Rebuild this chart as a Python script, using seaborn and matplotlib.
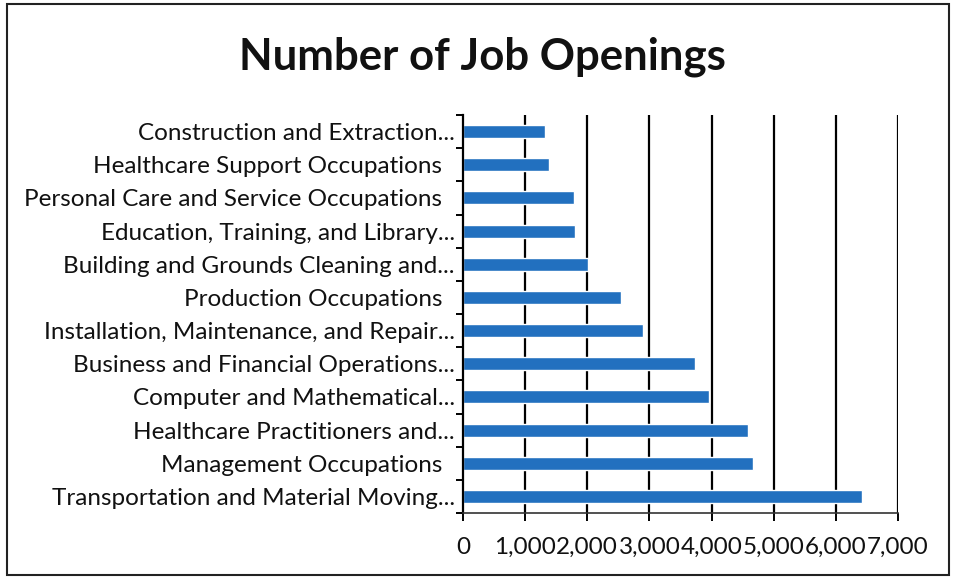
import numpy as np
import pandas as pd
import matplotlib
matplotlib.use('Agg')
import matplotlib.pyplot as plt
import seaborn as sns
from matplotlib.patches import Rectangle
from matplotlib.ticker import FuncFormatter, FixedLocator

# data, top to bottom as shown in the chart
categories = [
    "Construction and Extraction...",
    "Healthcare Support Occupations  ",
    "Personal Care and Service Occupations  ",
    "Education, Training, and Library...",
    "Building and Grounds Cleaning and...",
    "Production Occupations  ",
    "Installation, Maintenance, and Repair...",
    "Business and Financial Operations...",
    "Computer and Mathematical...",
    "Healthcare Practitioners and...",
    "Management Occupations  ",
    "Transportation and Material Moving...",
]
openings = [1320, 1380, 1780, 1795, 2010, 2537, 2898, 3726, 3963, 4581, 4666, 6419]
x_ticks = [0, 1000, 2000, 3000, 4000, 5000, 6000, 7000]

sns.set_style("white")
plt.rcParams['font.family'] = ['Lato', 'DejaVu Sans']

df = pd.DataFrame({'Occupation': categories, 'Openings': openings})

W, H = 955, 580
fig = plt.figure(figsize=(W / 100, H / 100), dpi=100)
fig.patch.set_facecolor('white')
ax = fig.add_axes([463 / W, 1 - 513 / H, (898 - 463) / W, (513 - 115) / H])

sns.barplot(data=df, x='Openings', y='Occupation', orient='h', color='#2270bf',
            saturation=1, width=0.39, ax=ax, errorbar=None)

ax.set_xlim(0, 7000)
ax.set_ylim(len(categories) - 0.5, -0.5)
ax.set_xlabel('')
ax.set_ylabel('')

# vertical gridlines
ax.xaxis.set_major_locator(FixedLocator(x_ticks))
ax.xaxis.set_major_formatter(FuncFormatter(lambda v, p: f'{int(v):,}'))
for xv in x_ticks[1:]:
    ax.axvline(xv, color='black', lw=1.6, zorder=0)

for s in ['top', 'right']:
    ax.spines[s].set_visible(False)
ax.spines['left'].set_color('black')
ax.spines['left'].set_linewidth(1.6)
ax.spines['bottom'].set_color('#333333')
ax.spines['bottom'].set_linewidth(1.2)

ax.tick_params(axis='x', direction='out', length=6, width=1.4, color='black',
               labelsize=17.5, pad=11, bottom=True)
ax.tick_params(axis='y', which='major', length=0, labelsize=17.5, pad=6)
ax.set_yticks(np.arange(-0.5, len(categories) + 0.5, 1), minor=True)
ax.tick_params(axis='y', which='minor', direction='out', length=5, width=1.4,
               color='black', left=True)
for lbl in ax.get_yticklabels() + ax.get_xticklabels():
    lbl.set_color('#111111')

fig.text(0.505, 1 - 57 / H, 'Number of Job Openings', ha='center', va='center',
         fontsize=31.5, fontweight='bold', color='#111111')

fig.patches.append(Rectangle((7 / W, 5 / H), (949 - 7) / W, (576 - 5) / H,
                             transform=fig.transFigure, fill=False,
                             edgecolor='#222222', lw=1.5))

fig.savefig('out.png', dpi=100)
